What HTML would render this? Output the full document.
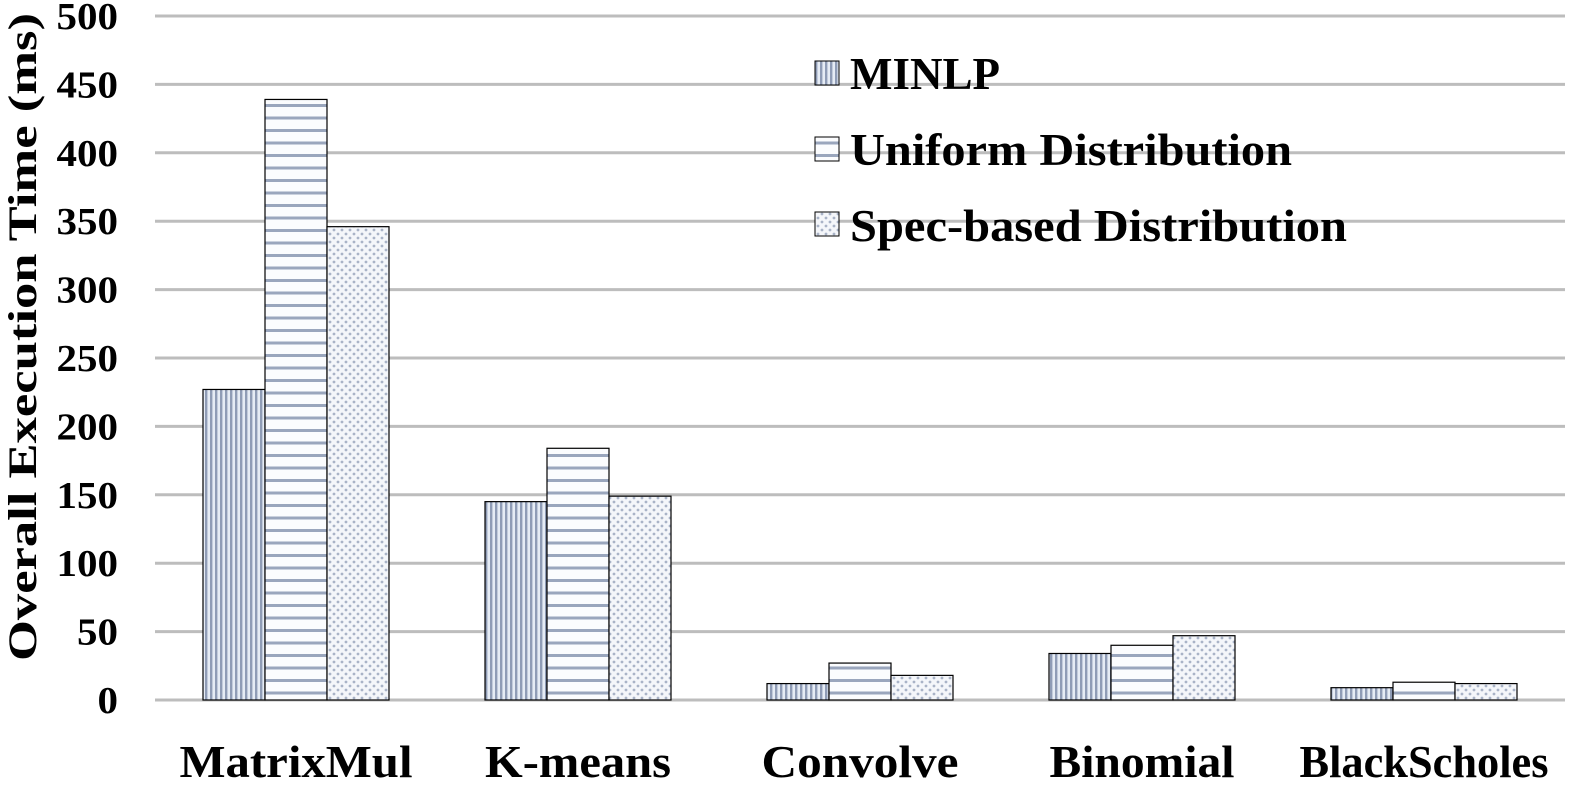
<!DOCTYPE html>
<html><head><meta charset="utf-8"><style>
html,body{margin:0;padding:0;background:#fff;}
svg{display:block;font-family:"Liberation Serif",serif;font-weight:bold;}
</style></head><body>
<svg id="chart" width="1584" height="792" viewBox="0 0 1584 792" xmlns="http://www.w3.org/2000/svg">
<defs>
<pattern id="pv" patternUnits="userSpaceOnUse" width="5" height="10"><rect width="5" height="10" fill="#e6ecf5"/><rect x="0" width="2.4" height="10" fill="#8f9cb6"/></pattern>
<pattern id="ph" patternUnits="userSpaceOnUse" width="10" height="12.5"><rect width="10" height="12.5" fill="#fbfcfe"/><rect y="4" width="10" height="3" fill="#9aa6bd"/></pattern>
<pattern id="pd" patternUnits="userSpaceOnUse" width="8" height="8"><rect width="8" height="8" fill="#f4f6fa"/><circle cx="2" cy="2" r="1.4" fill="#a9b3c7"/><circle cx="6" cy="6" r="1.4" fill="#a9b3c7"/></pattern>
</defs>
<g id="grid"></g><g id="bars"></g><g id="labels"></g>
<text transform="translate(36,337) rotate(-90)" text-anchor="middle" font-size="40" textLength="648" lengthAdjust="spacingAndGlyphs">Overall Execution Time (ms)</text>
<g>
<g><rect x="815" y="61" width="24" height="24" fill="url(#pv)" stroke="#000" stroke-width="1"/><text x="850" y="89" font-size="46" textLength="150" lengthAdjust="spacingAndGlyphs">MINLP</text></g>
<g><rect x="815" y="137" width="24" height="24" fill="url(#ph)" stroke="#000" stroke-width="1"/><text x="850" y="165" font-size="46" textLength="442" lengthAdjust="spacingAndGlyphs">Uniform Distribution</text></g>
<g><rect x="815" y="212" width="24" height="24" fill="url(#pd)" stroke="#000" stroke-width="1"/><text x="850" y="241" font-size="46" textLength="497" lengthAdjust="spacingAndGlyphs">Spec-based Distribution</text></g>
</g>
</svg>
<script>
const categories=["MatrixMul","K-means","Convolve","Binomial","BlackScholes"];
const minlp=[227,145,12,34,9];
const uniform=[439,184,27,40,13];
const spec=[346,149,18,47,12];
const yTicks=[0,50,100,150,200,250,300,350,400,450,500];
const NS="http://www.w3.org/2000/svg";
const x0=155,x1=1565,yBase=700,yTop=16,yMax=500;
const y=v=>yBase-(v/yMax)*(yBase-yTop);
const band=(x1-x0)/categories.length;
const cx=i=>x0+band*(i+0.5);
const labelW=[233,186,197,185,249];
function mk(tag,attrs,parent){const e=document.createElementNS(NS,tag);for(const k in attrs)e.setAttribute(k,attrs[k]);document.getElementById(parent).appendChild(e);return e;}
yTicks.forEach(t=>{
  const l=mk('line',{x1:x0,x2:x1,y1:y(t),y2:y(t),stroke:'#bdbdbd','stroke-width':3},'grid');
  
  
  const s=String(t);
  const tx=mk('text',{x:118,y:y(t)+13,'text-anchor':'end','font-size':38,textLength:s.length*20.5,lengthAdjust:'spacingAndGlyphs'},'labels');
  tx.textContent=s;
  
  
});
const series=[[minlp,'url(#pv)','minlp'],[uniform,'url(#ph)','uniform'],[spec,'url(#pd)','spec']];
const bw=62;
categories.forEach((c,i)=>{
  series.forEach((s,j)=>{
    const v=s[0][i];const bx=cx(i)-1.5*bw+j*bw;
    const r=mk('rect',{x:bx,y:y(v),width:bw,height:yBase-y(v),fill:s[1],stroke:'#000','stroke-width':1.2},'bars');
    
    
  });
  const tx=mk('text',{x:cx(i),y:777,'text-anchor':'middle','font-size':46,textLength:labelW[i],lengthAdjust:'spacingAndGlyphs'},'labels');
  tx.textContent=c;
  
  
});
</script>
</body></html>
